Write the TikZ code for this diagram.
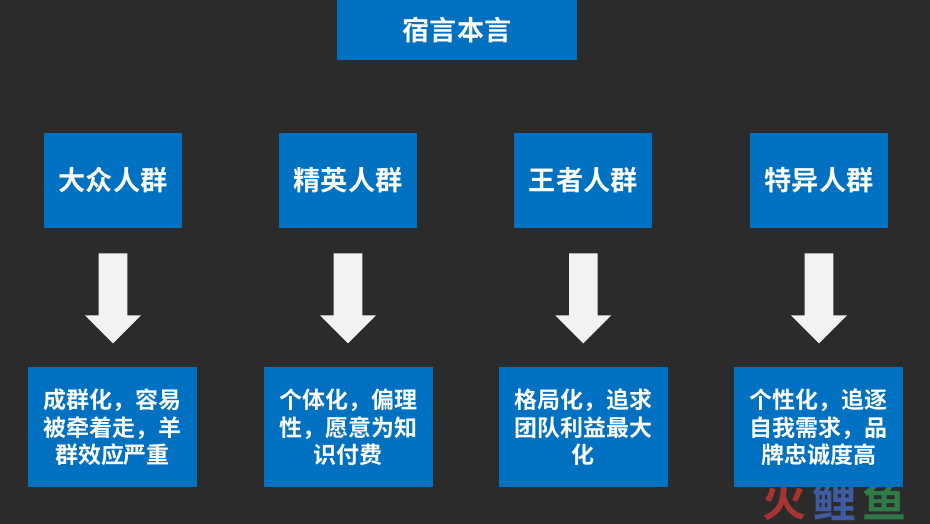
\documentclass[tikz,border=0pt]{standalone}
\usepackage{fontspec}
\setmainfont{Noto Sans CJK SC}[BoldFont={* Bold}]
\usepackage{tikz}
\usetikzlibrary{positioning,shapes.arrows}

\definecolor{bgdark}{HTML}{2B2B2B}
\definecolor{boxblue}{HTML}{0070C0}
\definecolor{arrowgray}{HTML}{F2F2F2}
\definecolor{markred}{HTML}{A83333}
\definecolor{markblue}{HTML}{3F5CA3}
\definecolor{markgreen}{HTML}{2F7A48}

\tikzset{
    titlebox/.style={fill=boxblue, text=white, inner sep=0pt, font=\fontsize{27.2}{27}\bfseries, minimum width=240pt, minimum height=60pt},
    groupbox/.style={fill=boxblue, text=white, inner sep=0pt, font=\fontsize{27.2}{27}\bfseries, minimum width=138pt, minimum height=95pt},
    traitbox/.style={fill=boxblue, text=white, inner sep=0pt, align=center, font=\fontsize{23}{27.5}\bfseries, minimum width=169pt, minimum height=120pt},
    downarrow/.style={single arrow, fill=arrowgray, inner sep=14pt, minimum height=90pt, minimum width=56pt, single arrow head extend=13.6pt, single arrow tip angle=90, shape border rotate=270},
    markchar/.style={inner sep=0pt, font=\fontsize{44}{44}\bfseries}
}

\begin{document}
\begin{tikzpicture}[x=1pt, y=1pt, node distance=25pt]
    % Background
    \fill [bgdark] (0,0) rectangle (930,-524);
    \useasboundingbox (0,0) rectangle (930,-524);

    % Watermark
    \node [markchar, text=markred]   (mark1) at (784,-500) {火};
    \node [markchar, text=markblue]  (mark2) at (834,-500) {鲤};
    \node [markchar, text=markgreen] (mark3) at (884,-500) {鱼};

    % Title
    \node [titlebox] (title) at (457,-30) {宿言本言};

    % Groups
    \node [groupbox] (mass)  at (113,-180.5)  {大众人群};
    \node [groupbox] (elite) at (348,-180.5)  {精英人群};
    \node [groupbox] (king)  at (583.3,-180.5) {王者人群};
    \node [groupbox] (odd)   at (819,-180.5)  {特异人群};

    % Arrows
    \node [downarrow, below=of mass]  (arrow1) {};
    \node [downarrow, below=of elite] (arrow2) {};
    \node [downarrow, below=of king]  (arrow3) {};
    \node [downarrow, below=of odd]   (arrow4) {};

    % Traits
    \node [traitbox, below=23.5pt of arrow1, xshift=-0.5pt] (trait1) {成群化，容易\\被牵着走，羊\\群效应严重};
    \node [traitbox, below=23.5pt of arrow2] (trait2) {个体化，偏理\\性，愿意为知\\识付费};
    \node [traitbox, below=23.5pt of arrow3] (trait3) {格局化，追求\\团队利益最大\\化};
    \node [traitbox, below=23.5pt of arrow4, xshift=-0.5pt] (trait4) {个性化，追逐\\自我需求，品\\牌忠诚度高};
\end{tikzpicture}
\end{document}
